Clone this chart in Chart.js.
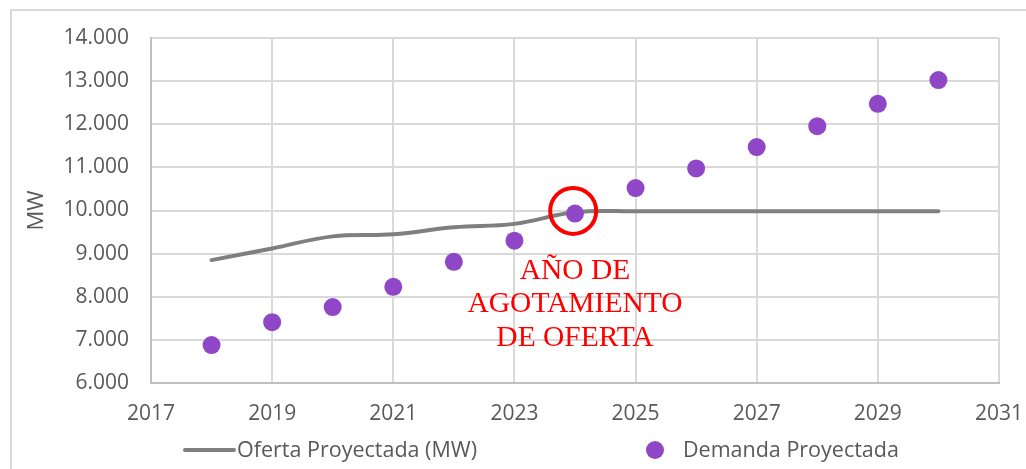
<!DOCTYPE html>
<html>
<head>
<meta charset="utf-8">
<script src="https://cdn.jsdelivr.net/npm/chart.js@4/dist/chart.umd.min.js"></script>
<style>
  html, body { margin: 0; padding: 0; background: #fff; }
  #wrap { position: relative; width: 1026px; height: 469px; overflow: hidden; }
  #frame { position: absolute; left: 10px; top: 9px; width: 1100px; height: 600px;
           border-left: 2px solid #d9d9d9; border-top: 2px solid #d9d9d9; }
  #chart { position: absolute; left: 0; top: 0; }
</style>
</head>
<body>
<div id="wrap">
  <div id="frame"></div>
  <canvas id="chart" width="1026" height="469"></canvas>
</div>
<script>
const YEARS = [2018, 2019, 2020, 2021, 2022, 2023, 2024, 2025, 2026, 2027, 2028, 2029, 2030];
const OFERTA = [8850, 9120, 9400, 9450, 9610, 9690, 9960, 9980, 9980, 9980, 9980, 9980, 9980];
const DEMANDA = [6880, 7410, 7760, 8230, 8810, 9300, 9930, 10520, 10975, 11470, 11955, 12475, 13025];

const SERIES_NAMES = ['Oferta Proyectada (MW)', 'Demanda Proyectada'];
const Y_TITLE = 'MW';

// highlighted year and its note
const MARK_X = [2023.97];
const MARK_Y = [9990];
const NOTE_LINES = ['AÑO DE', 'AGOTAMIENTO', 'DE OFERTA'];
const NOTE_X = 2024;
const NOTE_Y = 8600;

const GREY = '#7f7f7f';
const PURPLE = '#8f47c7';
const TEXT = '#595959';
const FONT = '"Open Sans", "Liberation Sans", sans-serif';

const fmt = v => String(v).replace(/\B(?=(\d{3})+(?!\d))/g, '.');

const notePlugin = {
  id: 'note',
  afterDatasetsDraw(chart) {
    const { ctx, scales } = chart;
    const x = scales.x.getPixelForValue(NOTE_X);
    const y0 = scales.y.getPixelForValue(NOTE_Y);
    ctx.save();
    ctx.fillStyle = '#ff0000';
    ctx.font = '29.5px "Liberation Serif", "Times New Roman", serif';
    ctx.textAlign = 'center';
    ctx.textBaseline = 'middle';
    NOTE_LINES.forEach((t, i) => ctx.fillText(t, x, y0 + i * 33.5));
    ctx.restore();
  }
};

// legend drawn by hand so the line sample can be wide like the original
const legendPlugin = {
  id: 'sideLegend',
  afterDraw(chart) {
    const { ctx } = chart;
    const y = 450;
    ctx.save();
    ctx.font = '21.5px ' + FONT;
    ctx.fillStyle = TEXT;
    ctx.textBaseline = 'middle';
    ctx.strokeStyle = GREY;
    ctx.lineWidth = 4;
    ctx.lineCap = 'round';
    ctx.beginPath();
    ctx.moveTo(185, y);
    ctx.lineTo(234, y);
    ctx.stroke();
    ctx.fillText(SERIES_NAMES[0], 237, y + 1);
    ctx.fillStyle = PURPLE;
    ctx.beginPath();
    ctx.arc(655, y, 9, 0, Math.PI * 2);
    ctx.fill();
    ctx.fillStyle = TEXT;
    ctx.fillText(SERIES_NAMES[1], 683, y + 1);
    ctx.restore();
  }
};

new Chart(document.getElementById('chart'), {
  type: 'scatter',
  data: {
    datasets: [
      {
        label: 'mark',
        data: MARK_X.map((x, i) => ({ x, y: MARK_Y[i] })),
        pointRadius: 23,
        pointHoverRadius: 23,
        borderWidth: 4,
        borderColor: '#ff0000',
        backgroundColor: 'rgba(0,0,0,0)',
        order: 0
      },
      {
        label: SERIES_NAMES[1],
        data: YEARS.map((x, i) => ({ x, y: DEMANDA[i] })),
        pointRadius: 9,
        pointHoverRadius: 9,
        borderWidth: 0,
        backgroundColor: PURPLE,
        borderColor: PURPLE,
        order: 1
      },
      {
        type: 'line',
        label: SERIES_NAMES[0],
        data: YEARS.map((x, i) => ({ x, y: OFERTA[i] })),
        borderColor: GREY,
        borderWidth: 4,
        borderCapStyle: 'round',
        pointRadius: 0,
        tension: 0.4,
        fill: false,
        order: 2
      }
    ]
  },
  options: {
    responsive: false,
    animation: false,
    layout: { padding: { left: 12, top: 38, right: 27, bottom: 0 } },
    plugins: {
      legend: { display: false },
      tooltip: { enabled: false }
    },
    scales: {
      x: {
        type: 'linear',
        min: 2017,
        max: 2031,
        ticks: {
          stepSize: 2,
          color: TEXT,
          font: { family: FONT, size: 21 },
          padding: 3,
          callback: v => String(v)
        },
        grid: { color: '#d9d9d9', lineWidth: 2, drawTicks: true, tickLength: 15, tickColor: 'rgba(0,0,0,0)' },
        border: { color: '#bfbfbf', width: 2 },
        afterFit: s => { s.height = 86; }
      },
      y: {
        min: 6000,
        max: 14000,
        ticks: {
          stepSize: 1000,
          color: TEXT,
          font: { family: FONT, size: 21 },
          padding: 22,
          callback: v => fmt(v)
        },
        grid: { color: '#d9d9d9', lineWidth: 2, drawTicks: false },
        border: { color: '#bfbfbf', width: 2 },
        title: {
          display: true,
          text: Y_TITLE,
          color: TEXT,
          font: { family: FONT, size: 22 },
          padding: { top: 12, bottom: 0 }
        },
        afterFit: s => { s.width = 139; }
      }
    }
  },
  plugins: [notePlugin, legendPlugin]
});
</script>
</body>
</html>
